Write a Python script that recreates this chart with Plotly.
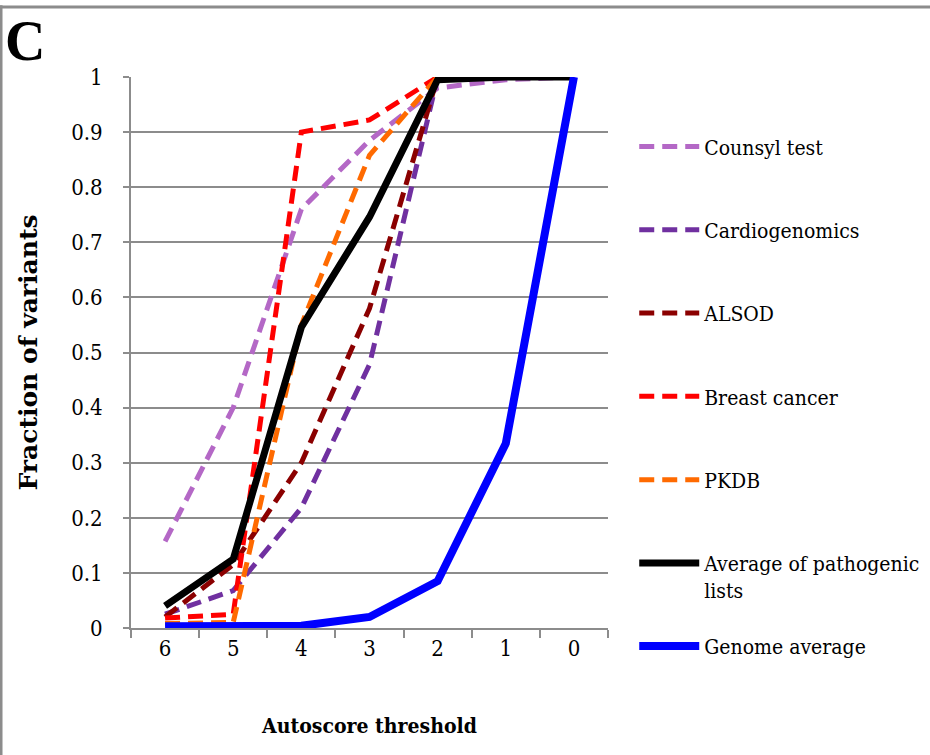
import plotly.graph_objects as go

thresholds = ["6", "5", "4", "3", "2", "1", "0"]
counsyl = [0.157, 0.40, 0.76, 0.885, 0.98, 0.995, 1.0]
cardiogenomics = [0.025, 0.068, 0.218, 0.478, 1.0, 1.0, 1.0]
alsod = [0.02, 0.115, 0.30, 0.58, 1.0, 1.0, 1.0]
breast = [0.018, 0.025, 0.90, 0.922, 1.0, 1.0, 1.0]
pkdb = [0.008, 0.01, 0.55, 0.858, 1.0, 1.0, 1.0]
average = [0.04, 0.125, 0.546, 0.746, 0.995, 1.0, 1.0]
genome = [0.003, 0.003, 0.004, 0.02, 0.085, 0.335, 1.0]

series_names = ["Counsyl test", "Cardiogenomics", "ALSOD", "Breast cancer", "PKDB",
                "Average of pathogenic<br>lists", "Genome average"]
series_values = [counsyl, cardiogenomics, alsod, breast, pkdb, average, genome]
colors = ["#B468C6", "#7030A0", "#8B0000", "#FF0000", "#FF6A00", "#000000", "#0000FF"]
widths = [5, 5, 5, 5, 5, 7, 8]
dashes = ["15px,8px"] * 5 + ["solid", "solid"]
legend_ids = ["legend"] * 6 + ["legend2"]

FONT = "DejaVu Serif Condensed, DejaVu Serif, serif"
BOLD_V = "DejaVu Serif, serif"

fig = go.Figure()
for i, (name, vals) in enumerate(zip(series_names, series_values)):
    fig.add_trace(go.Scatter(
        x=thresholds, y=vals, mode="lines", name=name,
        legendgroup=f"g{i}", legend=legend_ids[i],
        line=dict(color=colors[i], width=widths[i], dash=dashes[i]),
    ))

legend_common = dict(
    xanchor="left", yanchor="top",
    font=dict(family=FONT, size=21, color="black"),
    tracegroupgap=53, itemwidth=60, valign="top",
    bgcolor="rgba(0,0,0,0)",
)

fig.update_layout(
    width=930, height=755,
    margin=dict(l=131, r=322, t=77, b=127, autoexpand=False),
    paper_bgcolor="white", plot_bgcolor="white",
    font=dict(family=FONT, size=22, color="black"),
    showlegend=True,
    legend=dict(x=1.055, y=0.9105, **legend_common),
    legend2=dict(x=1.055, y=0.0038, **legend_common),
    xaxis=dict(
        type="category", range=[-0.5, 6.5], showgrid=False,
        showline=True, linecolor="#8C8C8C", linewidth=2,
        ticks="outside", tickson="boundaries", ticklen=8, tickcolor="#8C8C8C", tickwidth=2,
        tickfont=dict(family=FONT, size=22), ticklabelstandoff=0,
        title=dict(text="<b>Autoscore threshold</b>", font=dict(family=FONT, size=21), standoff=58),
    ),
    yaxis=dict(
        range=[0, 1], tickvals=[0, 0.1, 0.2, 0.3, 0.4, 0.5, 0.6, 0.7, 0.8, 0.9, 1],
        ticktext=["0", "0.1", "0.2", "0.3", "0.4", "0.5", "0.6", "0.7", "0.8", "0.9", "1"],
        showgrid=True, gridcolor="#8C8C8C", gridwidth=2,
        showline=True, linecolor="#8C8C8C", linewidth=2,
        ticks="outside", ticklen=6, tickcolor="#8C8C8C", tickwidth=2,
        tickfont=dict(family=FONT, size=22), ticklabelstandoff=16,
        zeroline=False,
        title=dict(text="<b>Fraction of variants</b>", font=dict(family=BOLD_V, size=25), standoff=26),
    ),
)

fig.add_annotation(
    text="<b>C</b>", xref="paper", yref="paper", x=-0.268, y=1.125,
    xanchor="left", yanchor="top", showarrow=False,
    font=dict(family="Liberation Serif, serif", size=56, color="black"),
)
# panel border (top and left edges)
fig.add_shape(type="line", xref="paper", yref="paper", x0=-0.28, x1=1.7, y0=1.127, y1=1.127,
              line=dict(color="#8C8C8C", width=3))
fig.add_shape(type="line", xref="paper", yref="paper", x0=-0.2725, x1=-0.2725, y0=-0.3, y1=1.13,
              line=dict(color="#8C8C8C", width=3))

fig.write_html("out.html", config={"displayModeBar": False},
               post_script="document.body.style.margin='0px';")
